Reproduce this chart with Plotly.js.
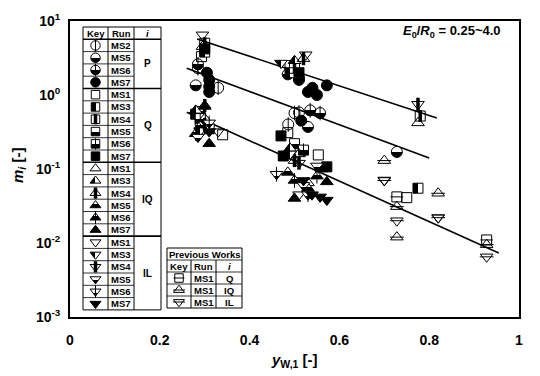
<!DOCTYPE html>
<html><head><meta charset="utf-8">
<script src="https://cdn.plot.ly/plotly-3.0.1.min.js"></script>
<style>body{margin:0;background:#fff}#chart{width:540px;height:376px}</style>
</head><body><div id="chart"></div>
<script>
// ---------- data ----------
const xTickVals = [0, 0.2, 0.4, 0.6, 0.8, 1];
const xTickText = ['0', '0.2', '0.4', '0.6', '0.8', '1'];
const yTickVals = [0.001, 0.01, 0.1, 1, 10];
const yTickText = ['10<sup>-3</sup>', '10<sup>-2</sup>', '10<sup>-1</sup>', '10<sup>0</sup>', '10<sup>1</sup>'];

const P_MS2_x = [0.285, 0.33, 0.50, 0.486, 0.51];
const P_MS2_y = [2.3, 1.25, 0.57, 0.40, 0.58];
const P_MS5_x = [0.280, 0.485, 0.53, 0.728, 0.51];
const P_MS5_y = [1.35, 1.9, 0.37, 0.17, 1.6];
const P_MS6_x = [0.285, 0.51, 0.557, 0.535];
const P_MS6_y = [2.6, 1.7, 0.57, 0.62];
const P_MS7_x = [0.305, 0.31, 0.31, 0.31, 0.53, 0.55, 0.572, 0.54, 0.515];
const P_MS7_y = [2.0, 1.6, 1.3, 1.1, 1.1, 1.0, 1.35, 1.25, 0.45];

const Q_MS1_x = [0.293, 0.34, 0.485, 0.553, 0.75, 0.49];
const Q_MS1_y = [3.3, 0.29, 0.31, 0.155, 0.041, 2.5];
const Q_MS3_x = [0.30, 0.775, 0.49, 0.28];
const Q_MS3_y = [3.8, 0.055, 2.0, 0.55];
const Q_MS4_x = [0.30, 0.78, 0.50, 0.29];
const Q_MS4_y = [5.0, 0.52, 2.3, 0.45];
const Q_MS5_x = [0.29, 0.50, 0.31];
const Q_MS5_y = [0.60, 0.22, 0.35];
const Q_MS6_x = [0.29, 0.52];
const Q_MS6_y = [0.48, 0.18];
const Q_MS7_x = [0.30, 0.51, 0.47, 0.572, 0.475];
const Q_MS7_y = [4.2, 2.0, 0.28, 0.107, 0.15];

const IQ_MS1_x = [0.295, 0.30, 0.51, 0.53, 0.775];
const IQ_MS1_y = [4.5, 0.48, 0.16, 0.065, 0.42];
const IQ_MS3_x = [0.28, 0.49, 0.50];
const IQ_MS3_y = [0.62, 0.19, 2.9];
const IQ_MS4_x = [0.30, 0.50, 0.52];
const IQ_MS4_y = [0.72, 0.13, 3.1];
const IQ_MS5_x = [0.29, 0.485, 0.53];
const IQ_MS5_y = [0.38, 0.09, 0.055];
const IQ_MS6_x = [0.28, 0.50, 0.55];
const IQ_MS6_y = [0.30, 0.07, 0.08];
const IQ_MS7_x = [0.31, 0.30, 0.572, 0.56, 0.50];
const IQ_MS7_y = [0.22, 0.70, 0.067, 0.10, 0.04];

const IL_MS1_x = [0.295, 0.525, 0.70, 0.82, 0.51, 0.33];
const IL_MS1_y = [6.5, 3.5, 0.071, 0.022, 0.045, 0.32];
const IL_MS3_x = [0.29, 0.49, 0.47];
const IL_MS3_y = [0.33, 0.16, 2.7];
const IL_MS4_x = [0.30, 0.51, 0.775];
const IL_MS4_y = [0.40, 0.12, 0.75];
const IL_MS5_x = [0.285, 0.52, 0.55];
const IL_MS5_y = [0.27, 0.06, 0.11];
const IL_MS6_x = [0.31, 0.53, 0.46];
const IL_MS6_y = [0.42, 0.045, 0.085];
const IL_MS7_x = [0.31, 0.557, 0.572, 0.539, 0.52];
const IL_MS7_y = [0.32, 0.042, 0.038, 0.045, 0.07];

const PW_Q_x = [0.728, 0.928];
const PW_Q_y = [0.042, 0.011];
const PW_IQ_x = [0.70, 0.728, 0.82, 0.928, 0.728];
const PW_IQ_y = [0.13, 0.031, 0.047, 0.0095, 0.012];
const PW_IL_x = [0.70, 0.728, 0.82, 0.928];
const PW_IL_y = [0.07, 0.02, 0.022, 0.0065];

const fit1_x = [0.283, 0.817];
const fit1_y = [5.71, 0.489];
const fit2_x = [0.26, 0.80];
const fit2_y = [2.30, 0.141];
const fit3_x = [0.26, 0.955];
const fit3_y = [0.583, 0.00733];

const groups = ['P', 'Q', 'IQ', 'IL'];
const prevRuns = ['MS1', 'MS1', 'MS1'];
const prevGroups = ['Q', 'IQ', 'IL'];

// ---------- styles ----------
const FONT = '"Liberation Sans", Arial, sans-serif';
const runFill = {MS1: 'open', MS2: 'vline', MS3: 'left', MS4: 'mid', MS5: 'bottom', MS6: 'bottomline', MS7: 'solid'};
const grpSym = {P: 'circle', Q: 'square', IQ: 'triangle-up', IL: 'triangle-down'};
const grpSize = {P: 11, Q: 10, IQ: 11, IL: 11};

const series = [
  {g: 'P', r: 'MS2', x: P_MS2_x, y: P_MS2_y}, {g: 'P', r: 'MS5', x: P_MS5_x, y: P_MS5_y},
  {g: 'P', r: 'MS6', x: P_MS6_x, y: P_MS6_y}, {g: 'P', r: 'MS7', x: P_MS7_x, y: P_MS7_y},
  {g: 'Q', r: 'MS1', x: Q_MS1_x, y: Q_MS1_y}, {g: 'Q', r: 'MS3', x: Q_MS3_x, y: Q_MS3_y},
  {g: 'Q', r: 'MS4', x: Q_MS4_x, y: Q_MS4_y}, {g: 'Q', r: 'MS5', x: Q_MS5_x, y: Q_MS5_y},
  {g: 'Q', r: 'MS6', x: Q_MS6_x, y: Q_MS6_y}, {g: 'Q', r: 'MS7', x: Q_MS7_x, y: Q_MS7_y},
  {g: 'IQ', r: 'MS1', x: IQ_MS1_x, y: IQ_MS1_y}, {g: 'IQ', r: 'MS3', x: IQ_MS3_x, y: IQ_MS3_y},
  {g: 'IQ', r: 'MS4', x: IQ_MS4_x, y: IQ_MS4_y}, {g: 'IQ', r: 'MS5', x: IQ_MS5_x, y: IQ_MS5_y},
  {g: 'IQ', r: 'MS6', x: IQ_MS6_x, y: IQ_MS6_y}, {g: 'IQ', r: 'MS7', x: IQ_MS7_x, y: IQ_MS7_y},
  {g: 'IL', r: 'MS1', x: IL_MS1_x, y: IL_MS1_y}, {g: 'IL', r: 'MS3', x: IL_MS3_x, y: IL_MS3_y},
  {g: 'IL', r: 'MS4', x: IL_MS4_x, y: IL_MS4_y}, {g: 'IL', r: 'MS5', x: IL_MS5_x, y: IL_MS5_y},
  {g: 'IL', r: 'MS6', x: IL_MS6_x, y: IL_MS6_y}, {g: 'IL', r: 'MS7', x: IL_MS7_x, y: IL_MS7_y}
];
const prevSeries = [
  {g: 'Q', x: PW_Q_x, y: PW_Q_y}, {g: 'IQ', x: PW_IQ_x, y: PW_IQ_y}, {g: 'IL', x: PW_IL_x, y: PW_IL_y}
];

function markerLayers(sym, fill, size) {
  const base = {size: size, line: {color: 'black', width: 1}};
  const L = [];
  if (fill === 'open' || fill === 'vline' || fill === 'mid' || fill === 'hline') {
    L.push(Object.assign({}, base, {symbol: sym + '-open', color: 'black'}));
  } else if (fill === 'solid') {
    L.push(Object.assign({}, base, {symbol: sym, color: 'black'}));
  } else if (fill === 'bottom' || fill === 'bottomline') {
    L.push(Object.assign({}, base, {symbol: sym, color: 'white', gradient: {type: 'vertical', color: 'black'}}));
  } else if (fill === 'left') {
    L.push(Object.assign({}, base, {symbol: sym, color: 'black', gradient: {type: 'horizontal', color: 'white'}}));
  }
  if (fill === 'vline' || fill === 'bottomline') {
    L.push({symbol: 'line-ns', size: size * 0.95, line: {color: 'black', width: 1}});
  } else if (fill === 'mid') {
    L.push({symbol: 'line-ns', size: size * 0.85, line: {color: 'black', width: 3.5}});
  } else if (fill === 'hline') {
    L.push({symbol: 'line-ew', size: size * 0.9, line: {color: 'black', width: 1}});
  }
  return L;
}

// ---------- pixel frame for the key tables ----------
const PLOT = {l: 70, r: 519, t: 21, b: 317};
const T1 = {cols: [83, 108, 134, 161], top: 27, rowH: 12.3};
const T2 = {cols: [167, 191, 216, 242], top: 248, rowH: 12};

const traces = [];
[[fit1_x, fit1_y], [fit2_x, fit2_y], [fit3_x, fit3_y]].forEach(function (f) {
  traces.push({x: f[0], y: f[1], mode: 'lines', line: {color: 'black', width: 1.6}, hoverinfo: 'skip'});
});

function rowY(T, i) { return T.top + (i + 0.5) * T.rowH; }

series.forEach(function (s, idx) {
  markerLayers(grpSym[s.g], runFill[s.r], grpSize[s.g]).forEach(function (m) {
    traces.push({x: s.x, y: s.y, mode: 'markers', marker: m, hoverinfo: 'skip'});
  });
  markerLayers(grpSym[s.g], runFill[s.r], grpSize[s.g] - 1.5).forEach(function (m) {
    traces.push({x: [(T1.cols[0] + T1.cols[1]) / 2], y: [rowY(T1, idx + 1)], xaxis: 'x2', yaxis: 'y2',
      mode: 'markers', marker: m, hoverinfo: 'skip'});
  });
});
prevSeries.forEach(function (s, idx) {
  markerLayers(grpSym[s.g], 'hline', grpSize[s.g]).forEach(function (m) {
    traces.push({x: s.x, y: s.y, mode: 'markers', marker: m, hoverinfo: 'skip'});
  });
  markerLayers(grpSym[s.g], 'hline', grpSize[s.g] - 1.5).forEach(function (m) {
    traces.push({x: [(T2.cols[0] + T2.cols[1]) / 2], y: [rowY(T2, idx + 2)], xaxis: 'x2', yaxis: 'y2',
      mode: 'markers', marker: m, hoverinfo: 'skip'});
  });
});

// ---------- table shapes & text ----------
const shapes = [];
const ann = [];
function ln(x0, y0, x1, y1, w) {
  shapes.push({type: 'line', xref: 'x2', yref: 'y2', x0: x0, y0: y0, x1: x1, y1: y1, line: {color: 'black', width: w || 1}});
}
function txt(x, y, t, size, extra) {
  ann.push(Object.assign({xref: 'x2', yref: 'y2', x: x, y: y, text: t, showarrow: false,
    font: {family: FONT, size: size, color: 'black', weight: 'bold'}, xanchor: 'center', yanchor: 'middle'}, extra || {}));
}
// paper-referenced text at a pixel position (for text outside the plot area)
function ptxt(px, py, t, size, extra) {
  ann.push(Object.assign({xref: 'paper', yref: 'paper',
    x: (px - PLOT.l) / (PLOT.r - PLOT.l), y: 1 - (py - PLOT.t) / (PLOT.b - PLOT.t),
    text: t, showarrow: false,
    font: {family: FONT, size: size, color: 'black', weight: 'bold'}, xanchor: 'center', yanchor: 'middle'}, extra || {}));
}
const nRows = 1 + series.length;
const c = T1.cols;
const bot1 = T1.top + nRows * T1.rowH;
shapes.push({type: 'rect', xref: 'x2', yref: 'y2', x0: c[0], x1: c[3], y0: T1.top, y1: bot1,
  line: {color: 'black', width: 1}, fillcolor: 'white', layer: 'below'});
ln(c[1], T1.top, c[1], bot1); ln(c[2], T1.top, c[2], bot1);
const groupStarts = [1, 5, 11, 17];
const groupEnds = [5, 11, 17, 23];
for (let i = 1; i < nRows; i++) {
  const yy = T1.top + i * T1.rowH;
  if (groupStarts.indexOf(i) >= 0) ln(c[0], yy, c[3], yy, 1.6);
  else ln(c[0], yy, c[2], yy, 0.8);
}
txt((c[0] + c[1]) / 2, rowY(T1, 0), 'Key', 9.5);
txt((c[1] + c[2]) / 2, rowY(T1, 0), 'Run', 9.5);
txt((c[2] + c[3]) / 2, rowY(T1, 0), '<i>i</i>', 9.5);
series.forEach(function (s, idx) { txt((c[1] + c[2]) / 2, rowY(T1, idx + 1), s.r, 9.5); });
groups.forEach(function (g, k) {
  const y0 = T1.top + groupStarts[k] * T1.rowH, y1 = T1.top + groupEnds[k] * T1.rowH;
  txt((c[2] + c[3]) / 2, (y0 + y1) / 2, g, 10);
});
const d = T2.cols;
const bot2 = T2.top + 5 * T2.rowH;
shapes.push({type: 'rect', xref: 'x2', yref: 'y2', x0: d[0], x1: d[3], y0: T2.top, y1: bot2,
  line: {color: 'black', width: 1}, fillcolor: 'white', layer: 'below'});
for (let i = 1; i < 5; i++) ln(d[0], T2.top + i * T2.rowH, d[3], T2.top + i * T2.rowH, 0.8);
ln(d[1], T2.top + T2.rowH, d[1], bot2); ln(d[2], T2.top + T2.rowH, d[2], bot2);
txt((d[0] + d[3]) / 2, rowY(T2, 0), 'Previous Works', 9.5);
txt((d[0] + d[1]) / 2, rowY(T2, 1), 'Key', 9.5);
txt((d[1] + d[2]) / 2, rowY(T2, 1), 'Run', 9.5);
txt((d[2] + d[3]) / 2, rowY(T2, 1), '<i>i</i>', 9.5);
prevRuns.forEach(function (r, k) {
  txt((d[1] + d[2]) / 2, rowY(T2, k + 2), r, 9.5);
  txt((d[2] + d[3]) / 2, rowY(T2, k + 2), prevGroups[k], 9.5);
});
// condition label and axis titles
txt(452, 31, '<i>E</i><sub>0</sub>/<i>R</i><sub>0</sub> = 0.25~4.0', 13);
ptxt(294, 360, '<i>y</i><sub>W,1</sub> [-]', 15);
ptxt(18, 166, '<i>m</i><sub><i>i</i></sub> [-]', 15, {textangle: -90});

const layout = {
  width: 540, height: 376,
  margin: {l: PLOT.l, r: 540 - PLOT.r, t: PLOT.t, b: 376 - PLOT.b},
  paper_bgcolor: 'white', plot_bgcolor: 'white',
  showlegend: false,
  font: {family: FONT, color: 'black', size: 14, weight: 'bold'},
  xaxis: {range: [0, 1], tickvals: xTickVals, ticktext: xTickText, showgrid: false, zeroline: false,
    showline: true, linewidth: 2, linecolor: 'black', mirror: true,
    ticks: 'outside', ticklen: 9, tickcolor: 'rgba(0,0,0,0)',
    tickfont: {family: FONT, size: 14, weight: 'bold'}},
  yaxis: {type: 'log', range: [-3, 1], tickvals: yTickVals, ticktext: yTickText, showgrid: false, zeroline: false,
    showline: true, linewidth: 2, linecolor: 'black', mirror: true,
    ticks: 'outside', ticklen: 5, tickcolor: 'rgba(0,0,0,0)',
    tickfont: {family: FONT, size: 14, weight: 'bold'}},
  xaxis2: {overlaying: 'x', range: [PLOT.l, PLOT.r], visible: false, fixedrange: true},
  yaxis2: {overlaying: 'y', range: [PLOT.b, PLOT.t], visible: false, fixedrange: true},
  shapes: shapes,
  annotations: ann
};
Plotly.newPlot('chart', traces, layout, {displayModeBar: false, staticPlot: true}).then(function () {
  // make half-filled markers crisp: turn each two-colour gradient into a hard split
  document.querySelectorAll('#chart linearGradient').forEach(function (gr) {
    const stops = gr.querySelectorAll('stop');
    if (stops.length !== 2) return;
    const a = stops[0], b = stops[1];
    const a2 = a.cloneNode(), b2 = b.cloneNode();
    a2.setAttribute('offset', '50%'); b2.setAttribute('offset', '50%');
    gr.insertBefore(a2, b); gr.insertBefore(b2, b);
  });
});
</script>
</body></html>
